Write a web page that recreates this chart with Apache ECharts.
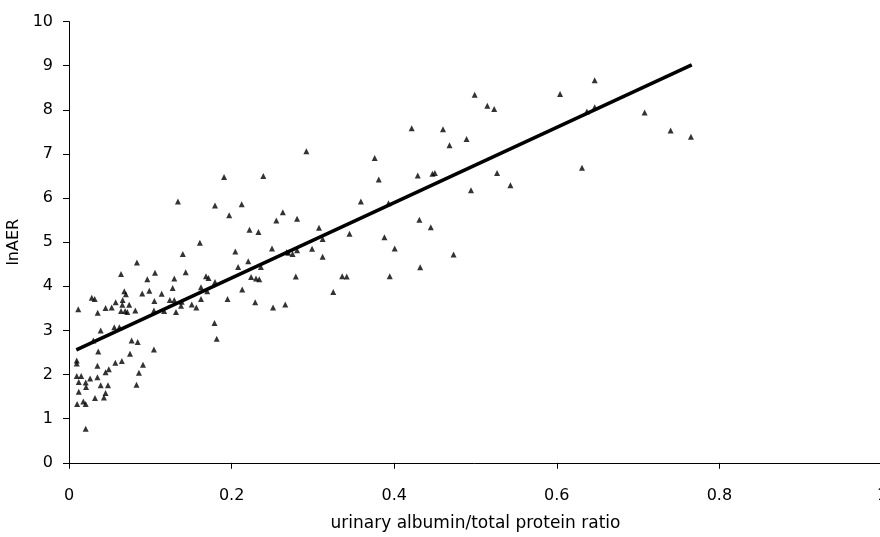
<!DOCTYPE html>
<html>
<head>
<meta charset="utf-8" />
<title>lnAER vs albumin/protein ratio</title>
<script src="https://cdn.jsdelivr.net/npm/echarts@6/dist/echarts.min.js"></script>
<style>
  html, body { margin: 0; padding: 0; background: #fff; }
  #chart { width: 880px; height: 537px; }
</style>
</head>
<body>
<div id="chart"></div>
<script>
// urinary albumin/total protein ratio
const ratio = [
  0.0095, 0.0095, 0.035, 0.057, 0.065, 0.049, 0.045, 0.0095, 0.015, 0.026,
  0.035, 0.012, 0.0205, 0.021, 0.039, 0.048, 0.083, 0.086, 0.012, 0.045,
  0.043, 0.032, 0.010, 0.0176, 0.0205, 0.0205, 0.075, 0.091, 0.030, 0.036,
  0.077, 0.0845, 0.1045, 0.039, 0.0557, 0.062, 0.0114, 0.0353, 0.045, 0.0525,
  0.0574, 0.066, 0.064, 0.069, 0.0656, 0.074, 0.0717, 0.0816, 0.1045, 0.105,
  0.124, 0.1295, 0.117, 0.1316, 0.028, 0.0316, 0.068, 0.070, 0.090, 0.0988,
  0.114, 0.1275, 0.064, 0.1058, 0.0963, 0.1295, 0.0836, 0.1435, 0.1685, 0.1716,
  0.1796, 0.1624, 0.170, 0.213, 0.1386, 0.1378, 0.151, 0.1566, 0.1624, 0.195,
  0.229, 0.251, 0.266, 0.179, 0.1817, 0.140, 0.161, 0.2046, 0.208, 0.2205,
  0.236, 0.224, 0.230, 0.234, 0.2497, 0.2678, 0.2697, 0.2805, 0.275, 0.299,
  0.312, 0.279, 0.336, 0.3416, 0.325, 0.3075, 0.312, 0.345, 0.359, 0.263,
  0.255, 0.2805, 0.222, 0.233, 0.197, 0.1796, 0.2124, 0.134, 0.1907, 0.239,
  0.292, 0.499, 0.5145, 0.523, 0.4215, 0.460, 0.489, 0.468, 0.376, 0.381,
  0.429, 0.447, 0.450, 0.5265, 0.543, 0.4945, 0.393, 0.431, 0.445, 0.388,
  0.4006, 0.473, 0.432, 0.3945, 0.6466, 0.604, 0.637, 0.6466, 0.708, 0.740,
  0.765, 0.631
];
// lnAER
const lnAER = [
  2.32, 2.25, 2.20, 2.27, 2.31, 2.12, 2.05, 1.97, 1.97, 1.91,
  1.94, 1.83, 1.82, 1.72, 1.76, 1.76, 1.77, 2.04, 1.61, 1.58,
  1.48, 1.47, 1.33, 1.39, 1.33, 0.77, 2.47, 2.22, 2.77, 2.52,
  2.77, 2.74, 2.57, 3.00, 3.07, 3.07, 3.48, 3.40, 3.51, 3.52,
  3.64, 3.69, 3.44, 3.44, 3.58, 3.58, 3.42, 3.45, 3.45, 3.67,
  3.69, 3.69, 3.44, 3.42, 3.74, 3.71, 3.89, 3.82, 3.84, 3.90,
  3.83, 3.96, 4.28, 4.31, 4.16, 4.18, 4.54, 4.32, 4.23, 4.19,
  4.10, 3.98, 3.89, 3.93, 3.65, 3.56, 3.59, 3.52, 3.71, 3.71,
  3.64, 3.52, 3.59, 3.17, 2.81, 4.73, 4.99, 4.79, 4.44, 4.57,
  4.44, 4.21, 4.18, 4.16, 4.86, 4.78, 4.76, 4.82, 4.73, 4.85,
  4.67, 4.22, 4.23, 4.22, 3.87, 5.33, 5.07, 5.19, 5.92, 5.68,
  5.49, 5.53, 5.28, 5.23, 5.61, 5.83, 5.86, 5.92, 6.48, 6.50,
  7.06, 8.34, 8.09, 8.02, 7.58, 7.56, 7.34, 7.20, 6.91, 6.42,
  6.51, 6.55, 6.57, 6.57, 6.29, 6.18, 5.88, 5.51, 5.34, 5.11,
  4.86, 4.72, 4.43, 4.23, 8.67, 8.36, 7.96, 8.06, 7.94, 7.53,
  7.39, 6.69
];
// fitted regression line end points
const fitX = [0.009, 0.766];
const fitY = [2.56, 9.02];

const xTicks = [0, 0.2, 0.4, 0.6, 0.8, 1];
const yTicks = [0, 1, 2, 3, 4, 5, 6, 7, 8, 9, 10];

const chart = echarts.init(document.getElementById('chart'));
const font = '"DejaVu Sans", "Liberation Sans", Arial, sans-serif';

const option = {
  animation: false,
  backgroundColor: '#fff',
  grid: { left: 69, right: -2, top: 21.6, bottom: 74.2, outerBoundsMode: 'none', containLabel: false },
  xAxis: {
    type: 'value',
    min: xTicks[0],
    max: xTicks[xTicks.length - 1],
    interval: 0.2,
    name: 'urinary albumin/total protein ratio',
    nameLocation: 'middle',
    nameGap: 52,
    nameTextStyle: { color: '#000', fontSize: 17, fontFamily: font },
    axisLine: { show: true, lineStyle: { color: '#000', width: 1 } },
    axisTick: { show: true, length: 6, lineStyle: { color: '#000' } },
    axisLabel: { color: '#000', fontSize: 16, fontFamily: font, margin: 25,
      formatter: function (v) { return String(Math.round(v * 10) / 10); } },
    splitLine: { show: false }
  },
  yAxis: {
    type: 'value',
    min: yTicks[0],
    max: yTicks[yTicks.length - 1],
    interval: 1,
    name: 'lnAER',
    nameLocation: 'middle',
    nameGap: 40,
    nameRotate: 90,
    nameTextStyle: { color: '#000', fontSize: 16, fontFamily: font },
    axisLine: { show: true, lineStyle: { color: '#000', width: 1 } },
    axisTick: { show: true, length: 6, lineStyle: { color: '#000' } },
    axisLabel: { color: '#000', fontSize: 16, fontFamily: font, margin: 16 },
    splitLine: { show: false }
  },
  series: [
    {
      type: 'scatter',
      symbol: 'triangle',
      symbolSize: 6,
      itemStyle: { color: '#000' },
      data: ratio.map(function (x, i) { return [x, lnAER[i]]; })
    },
    {
      type: 'line',
      symbol: 'none',
      lineStyle: { color: '#000', width: 3.5 },
      data: fitX.map(function (x, i) { return [x, fitY[i]]; })
    }
  ]
};
chart.setOption(option);
</script>
</body>
</html>
